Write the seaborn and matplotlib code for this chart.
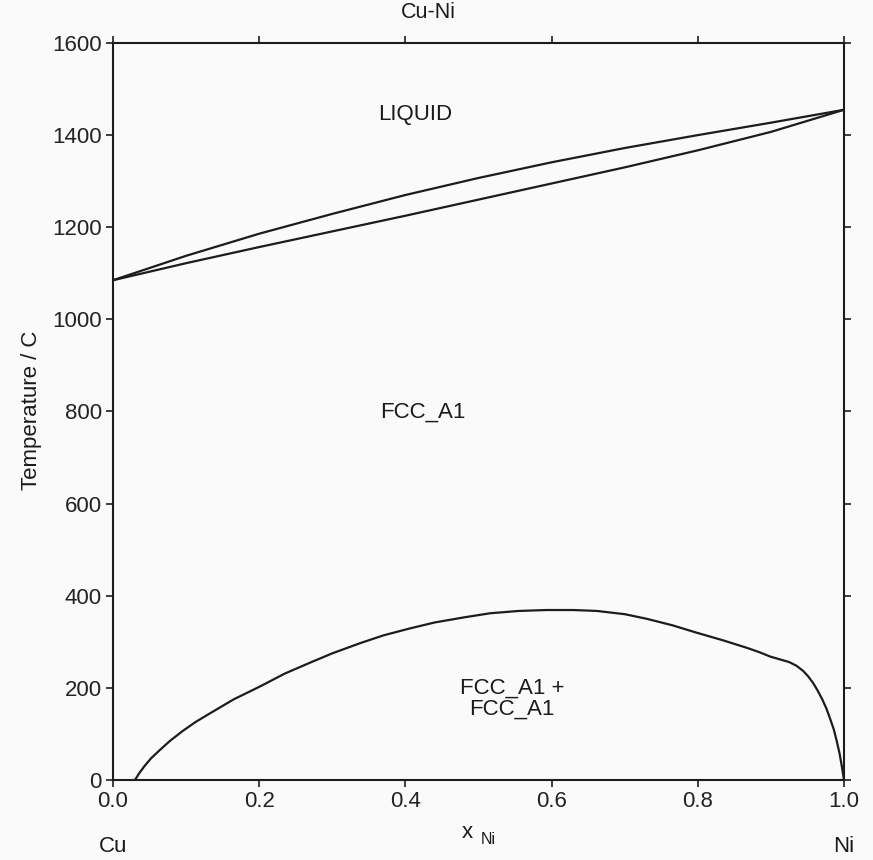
import matplotlib
matplotlib.use("Agg")
import matplotlib.pyplot as plt
import seaborn as sns
import pandas as pd

# Cu-Ni phase boundaries (mole fraction Ni vs temperature in C)
liquidus_x = [0.0, 0.1, 0.2, 0.3, 0.4, 0.5, 0.6, 0.7, 0.8, 0.9, 1.0]
liquidus_t = [1085, 1138, 1186, 1229, 1270, 1307, 1341, 1372, 1400, 1427, 1455]

solidus_x = [0.0, 0.1, 0.2, 0.3, 0.4, 0.5, 0.6, 0.7, 0.8, 0.9, 1.0]
solidus_t = [1085, 1122, 1157, 1191, 1225, 1260, 1295, 1330, 1367, 1407, 1455]

# FCC_A1 + FCC_A1 miscibility gap
gap_x = [0.030, 0.036, 0.043, 0.052, 0.064, 0.078, 0.095, 0.113, 0.133, 0.165,
         0.201, 0.235, 0.270, 0.300, 0.338, 0.370, 0.406, 0.440, 0.480, 0.516,
         0.555, 0.593, 0.630, 0.662, 0.700, 0.730, 0.765, 0.798, 0.835, 0.867,
         0.885, 0.899, 0.912, 0.925, 0.935, 0.944, 0.951, 0.958, 0.964, 0.970,
         0.976, 0.981, 0.986, 0.990, 0.994, 0.997, 1.000]
gap_t = [0, 15, 30, 47, 65, 85, 106, 126, 145, 175,
         203, 231, 255, 275, 297, 314, 329, 342, 353, 362,
         367, 369, 369, 367, 360, 350, 336, 320, 303, 287,
         277, 268, 262, 256, 248, 237, 225, 210, 194, 176,
         155, 133, 110, 85, 57, 30, 0]

x_ticks = [0.0, 0.2, 0.4, 0.6, 0.8, 1.0]
y_ticks = [0, 200, 400, 600, 800, 1000, 1200, 1400, 1600]

phase_labels = ["LIQUID", "FCC_A1", "FCC_A1 +\nFCC_A1"]
phase_x = [0.413, 0.424, 0.546]
phase_t = [1444, 799, 176]

sns.set_theme(style="ticks")
plt.rcParams["font.family"] = ["Liberation Sans", "DejaVu Sans"]

bg = "#fafafa"
ink = "#1c1c1c"
fig = plt.figure(figsize=(8.73, 8.60), dpi=100, facecolor=bg)
ax = fig.add_axes([113 / 873, 1 - 780 / 860, (844 - 113) / 873, (780 - 43) / 860])
ax.set_facecolor(bg)

for xs, ts in [(liquidus_x, liquidus_t), (solidus_x, solidus_t), (gap_x, gap_t)]:
    df = pd.DataFrame({"x": xs, "t": ts})
    sns.lineplot(data=df, x="x", y="t", ax=ax, sort=False, color=ink,
                 linewidth=1.6, estimator=None)

ax.set_xlim(0, 1)
ax.set_ylim(0, 1600)
ax.set_xticks(x_ticks)
ax.set_xticklabels([f"{v:.1f}" for v in x_ticks])
ax.set_yticks(y_ticks)
ax.set_yticklabels([str(v) for v in y_ticks])
ax.set_xlabel("")
ax.set_ylabel("")

for s in ax.spines.values():
    s.set_visible(True)
    s.set_color(ink)
    s.set_linewidth(1.5)

ax.tick_params(axis="both", which="both", direction="out", length=5, width=1.2,
               color=ink, labelcolor="#222222", labelsize=16, pad=3,
               top=True, right=True, labeltop=False, labelright=False)

for lab, px, pt in zip(phase_labels, phase_x, phase_t):
    ax.text(px, pt, lab, ha="center", va="center", fontsize=16,
            color="#1a1a1a", linespacing=1.0, multialignment="center")

H = 860.0
W = 873.0
fig.text(428 / W, 1 - 13 / H, "Cu-Ni", ha="center", va="center", fontsize=15.5, color="#1a1a1a")
fig.text(467 / W, 1 - 832 / H, "x", ha="center", va="center", fontsize=16, color="#1a1a1a")
fig.text(488 / W, 1 - 839 / H, "Ni", ha="center", va="center", fontsize=11.5, color="#1a1a1a")
fig.text(113 / W, 1 - 847 / H, "Cu", ha="center", va="center", fontsize=16, color="#1a1a1a")
fig.text(844 / W, 1 - 847 / H, "Ni", ha="center", va="center", fontsize=16, color="#1a1a1a")
fig.text(32 / W, 1 - 410 / H, "Temperature / C", ha="center", va="center", rotation=90,
         fontsize=16, color="#1a1a1a")

fig.savefig("out.png", dpi=100, facecolor=bg)
